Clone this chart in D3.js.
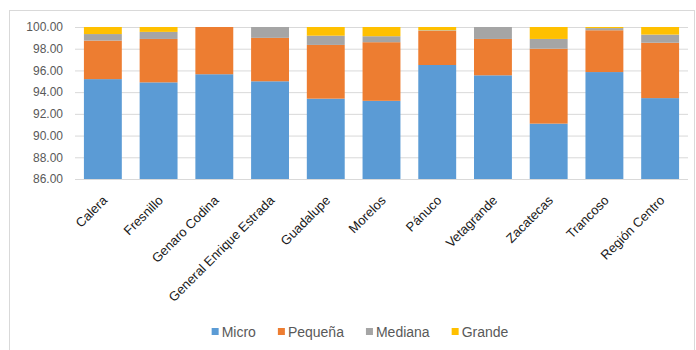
<!DOCTYPE html>
<html lang="es">
<head>
  <meta charset="UTF-8">
  <title>Unidades económicas por tamaño</title>
  <script src="https://d3js.org/d3.v7.min.js"></script>
  <style>
    body {
      margin: 0;
      background: #fff;
      font-family: 'Liberation Sans', Arial, sans-serif;
    }
    .axis path { display: none; }
    .axis line { display: none; }
    .grid line { stroke: #d9d9d9; }
    .grid path { display: none; }
  </style>
</head>
<body>
  <div id="chart"></div>
  <script>
    const municipios = ["Calera", "Fresnillo", "Genaro Codina", "General Enrique Estrada", "Guadalupe",
      "Morelos", "Pánuco", "Vetagrande", "Zacatecas", "Trancoso", "Región Centro"];
    const tamanos = ["Micro", "Pequeña", "Mediana", "Grande"];
    const colores = ["#5b9bd5", "#ed7d31", "#a5a5a5", "#ffc000"];

    const micro   = [95.2, 94.9, 95.65, 95.0, 93.4, 93.2, 96.5, 95.55, 91.1, 95.85, 93.45];
    const pequena = [3.55, 4.0, 4.35, 4.0, 4.95, 5.4, 3.15, 3.35, 6.9, 3.85, 5.1];
    const mediana = [0.6, 0.65, 0.0, 1.0, 0.85, 0.55, 0.05, 1.1, 0.9, 0.2, 0.75];
    const grande  = [0.65, 0.45, 0.0, 0.0, 0.8, 0.85, 0.3, 0.0, 1.1, 0.1, 0.7];
    const yTicks = [86, 88, 90, 92, 94, 96, 98, 100];

    const W = 696, H = 350;
    const m = { top: 27, right: 8, bottom: 171, left: 75 };
    const w = W - m.left - m.right, h = H - m.top - m.bottom;

    const rows = municipios.map((d, i) => ({
      name: d, Micro: micro[i], "Pequeña": pequena[i], Mediana: mediana[i], Grande: grande[i]
    }));
    const series = d3.stack().keys(tamanos)(rows);

    const svg = d3.select("#chart").append("svg")
      .attr("width", W).attr("height", H);

    // marco del gráfico
    svg.append("rect")
      .attr("x", 9.5).attr("y", 10.5)
      .attr("width", 685).attr("height", 360)
      .attr("fill", "none").attr("stroke", "#d9d9d9");

    const g = svg.append("g").attr("transform", `translate(${m.left},${m.top})`);

    const x = d3.scaleBand().domain(municipios).range([0, w]).paddingInner(0.32).paddingOuter(0.16);
    const y = d3.scaleLinear().domain([86, 100]).range([h, 0]).clamp(true);

    g.append("g").attr("class", "grid")
      .call(d3.axisLeft(y).tickValues(yTicks).tickSize(-w).tickFormat(""));

    g.selectAll(".serie")
      .data(series)
      .enter().append("g")
      .attr("class", "serie")
      .attr("fill", (d, i) => colores[i])
      .selectAll("rect")
      .data(d => d)
      .enter().append("rect")
      .attr("x", d => x(d.data.name))
      .attr("width", x.bandwidth())
      .attr("y", d => y(d[1]))
      .attr("height", d => y(d[0]) - y(d[1]));

    // eje x
    g.append("line")
      .attr("x1", 0).attr("x2", w)
      .attr("y1", h + 0.5).attr("y2", h + 0.5)
      .attr("stroke", "#d9d9d9");

    const yAxis = g.append("g").attr("class", "axis")
      .call(d3.axisLeft(y).tickValues(yTicks).tickSize(0).tickPadding(12).tickFormat(d3.format(".2f")));
    yAxis.selectAll("text")
      .attr("fill", "#595959")
      .style("font-size", "12px")
      .style("font-family", "'Liberation Sans', Arial, sans-serif");

    const xAxis = g.append("g").attr("class", "axis")
      .attr("transform", `translate(0,${h})`)
      .call(d3.axisBottom(x).tickSize(0).tickPadding(0));
    xAxis.selectAll("text")
      .attr("fill", "#1a1a1a")
      .attr("text-anchor", "end")
      .attr("y", 0).attr("dy", "0.35em")
      .attr("transform", "translate(2,19) rotate(-45)")
      .style("font-size", "13px")
      .style("font-family", "'Liberation Sans', Arial, sans-serif");

    // leyenda
    const leg = svg.append("g").attr("transform", "translate(0,332)");
    let lx = 0;
    const items = leg.selectAll("g").data(tamanos).enter().append("g");
    items.append("rect")
      .attr("width", 7).attr("height", 7)
      .attr("y", -4)
      .attr("fill", (d, i) => colores[i]);
    items.append("text")
      .attr("x", 10).attr("dy", "0.35em")
      .attr("fill", "#595959")
      .style("font-size", "14px")
      .text(d => d);
    items.each(function () {
      d3.select(this).attr("transform", `translate(${lx},0)`);
      lx += 10 + this.querySelector("text").getComputedTextLength() + 22;
    });
    const legW = lx - 22;
    leg.attr("transform", `translate(${360 - legW / 2},332)`);
  </script>
</body>
</html>
